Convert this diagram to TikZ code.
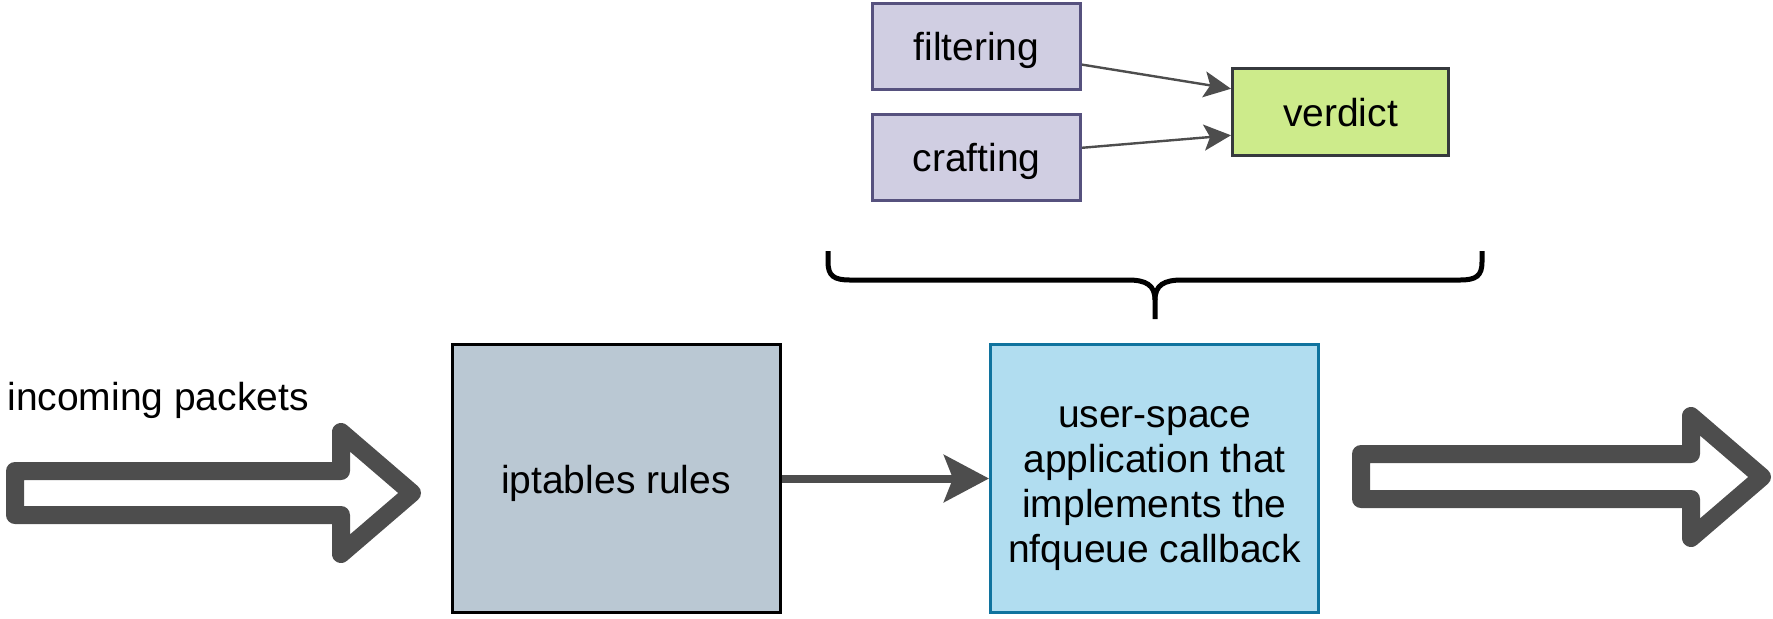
\documentclass[tikz,border=0pt]{standalone}
\usepackage{fontspec}
\setmainfont{Liberation Sans}
\usepackage{xcolor}
\usetikzlibrary{arrows.meta}

\definecolor{taskfill}{HTML}{D0CEE2}
\definecolor{taskline}{HTML}{56517E}
\definecolor{verdictfill}{HTML}{CDEB8B}
\definecolor{verdictline}{HTML}{36393D}
\definecolor{rulesfill}{HTML}{BAC8D3}
\definecolor{appfill}{HTML}{B1DDF0}
\definecolor{appline}{HTML}{10739E}
\definecolor{arrowgrey}{HTML}{4D4D4D}

\begin{document}
\begin{tikzpicture}[x=0.5pt, y=-0.5pt,
    every node/.style={font=\fontsize{19.5}{22.5}\selectfont, inner sep=0pt},
    box/.style={draw, line width=1.5pt, align=center},
    oneline/.style={text height=18.7pt, text depth=4.1pt},
    task/.style={box, oneline, draw=taskline, fill=taskfill, minimum width=104pt, minimum height=43pt},
    bigbox/.style={box, minimum width=164pt, minimum height=134pt},
    thin arrow/.style={draw=arrowgrey, line width=1.2pt, -{Stealth[length=13.5pt, width=13pt, inset=3pt]}},
    thick arrow/.style={draw=arrowgrey, line width=4pt, -{Stealth[length=22.5pt, width=23.5pt, inset=4.5pt]}},
    block arrow/.style={draw=arrowgrey, line width=9pt, line join=round},
    brace/.style={draw=black, line width=2.5pt}]
    \useasboundingbox (0,0) rectangle (1773,618);

    % top part
    \node (filtering) at (976.5, 46) [task] {filtering};
    \node (crafting) at (976.5, 157) [task] {crafting};
    \node (verdict) at (1340.5, 112) [box, oneline, draw=verdictline, fill=verdictfill, minimum width=108pt, minimum height=43.5pt] {verdict};
    \draw [thin arrow] (filtering.-10) -- (verdict.168);
    \draw [thin arrow] (crafting.5) -- (verdict.192);

    % brace
    \draw [brace] (828,251) -- (828,262) .. controls (828,276) and (834,280) .. (850,280) -- (1128,280) .. controls (1146,280) and (1155,285) .. (1155,300) -- (1155,319);
    \draw [brace] (1482,251) -- (1482,262) .. controls (1482,276) and (1476,280) .. (1460,280) -- (1182,280) .. controls (1164,280) and (1155,285) .. (1155,300);

    % bottom part
    \node (incoming) at (7, 410) [anchor=base west] {incoming packets};
    \node (rules) at (616, 478.5) [bigbox, oneline, draw=black, fill=rulesfill] {iptables rules};
    \node (app) at (1154.5, 478.5) [bigbox, text height=87.6pt, draw=appline, fill=appfill] {user-space\\application that\\implements the\\nfqueue callback};
    \draw [thick arrow] (rules) -- (app);

    \draw [block arrow] (15,471) -- (341,471) -- (341,432) -- (412,493) -- (341,554) -- (341,515) -- (15,515) -- cycle;
    \draw [block arrow] (1361,454) -- (1691,454) -- (1691,416) -- (1762,477) -- (1691,538) -- (1691,499) -- (1361,499) -- cycle;
\end{tikzpicture}
\end{document}
